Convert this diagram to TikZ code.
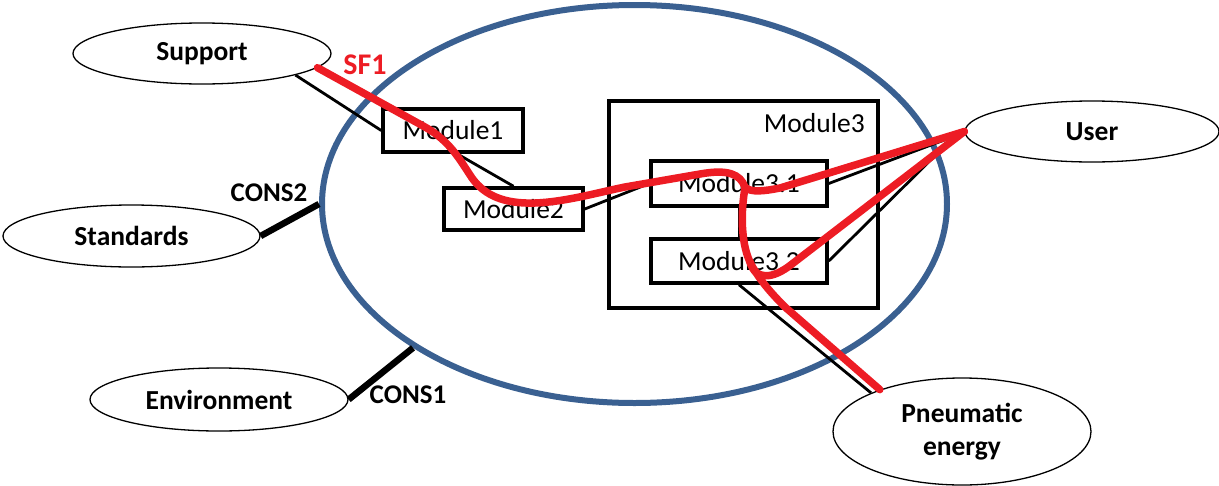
\documentclass[tikz,border=0pt]{standalone}
\usepackage{fontspec}
\setmainfont{Carlito}
\usetikzlibrary{shapes.geometric}
\definecolor{sysblue}{RGB}{58,96,145}
\definecolor{sfred}{RGB}{237,28,36}
\begin{document}
\begin{tikzpicture}[x=1pt,y=-1pt,
  actor/.style={draw,ellipse,line width=1.3pt,fill=white,inner sep=0pt,font=\fontsize{27.5}{33}\selectfont\bfseries,align=center},
  module/.style={draw,rectangle,line width=3.5pt,inner sep=0pt,font=\fontsize{27.5}{33}\selectfont},
  link/.style={line width=2.8pt},
  cons/.style={line width=6.5pt},
  flow/.style={draw=sfred,line width=7.5pt,line cap=round,line join=round},
  lbl/.style={font=\fontsize{27}{33}\selectfont\bfseries,inner sep=0pt}]
\useasboundingbox (0,0) rectangle (1219,485);
% system boundary
\node[draw=sysblue,line width=6pt,ellipse,minimum width=625pt,minimum height=398pt,inner sep=0pt] (sys) at (634.5,204) {};
% modules
\node[module,minimum width=269pt,minimum height=207pt] (m3) at (743.5,204.5) {};
\node[anchor=east,inner sep=0pt,font=\fontsize{27.5}{33}\selectfont] (m3lab) at (865,123) {Module3};
\node[module,fill=white,minimum width=140pt,minimum height=43pt] (m1) at (453,130.5) {Module1};
\node[module,fill=white,minimum width=139pt,minimum height=42pt] (m2) at (513.5,209) {Module2};
\node[module,fill=white,minimum width=176pt,minimum height=45pt] (m31) at (739,183.5) {Module3.1};
\node[module,fill=white,minimum width=176pt,minimum height=44pt] (m32) at (739,261) {Module3.2};
% actors
\node[actor,minimum width=258pt,minimum height=61pt] (s) at (202,53.5) {Support};
\node[actor,minimum width=257pt,minimum height=62pt] (st) at (131.5,236) {Standards};
\node[actor,minimum width=258pt,minimum height=63pt] (env) at (219,399.5) {Environment};
\node[actor,minimum width=254pt,minimum height=61pt] (u) at (1092,131.5) {User};
\node[actor,minimum width=258pt,minimum height=107pt] (pe) at (962,431.5) {Pneumatic\\energy};
\coordinate (ub) at (955,136);
% black links
\draw[link] (s.-13) -- (m1.west);
\draw[link] ([xshift=4pt]m1.south) -- (m2.north);
\draw[link] (m2.east) -- (m31.west);
\draw[link] (m31.east) -- (ub);
\draw[link] (m32.east) -- (ub);
\draw[link] (m31.south) -- (m32.north);
\draw[link] (m32.south) -- (pe.157);
% constraints
\draw[cons] (st.east) -- (sys.west);
\draw[cons] (env.east) -- (sys.213);
% service function SF1
\draw[flow] (s.-7) -- (425,127) .. controls (450,141) and (460,160) .. (472,178) .. controls (485,196) and (505,204) .. (535,203) .. controls (565,202) and (600,192) .. (625,187) -- (700,174) .. controls (728,169) and (740,174) .. (745,187) .. controls (750,193) and (765,191) .. (780,188) -- (u.west);
\draw[flow] (745,188) .. controls (741,210) and (740,245) .. (752,266) .. controls (760,280) and (770,292) .. (785,307) -- (pe.153);
\draw[flow] (750,262) .. controls (755,280) and (772,280) .. (792,264) -- (u.west);
% labels
\node[lbl,text=sfred,font=\fontsize{30}{36}\selectfont\bfseries] (sf1) at (365,65) {SF1};
\node[lbl] (c2) at (269,193) {CONS2};
\node[lbl] (c1) at (408,395) {CONS1};
\end{tikzpicture}
\end{document}
